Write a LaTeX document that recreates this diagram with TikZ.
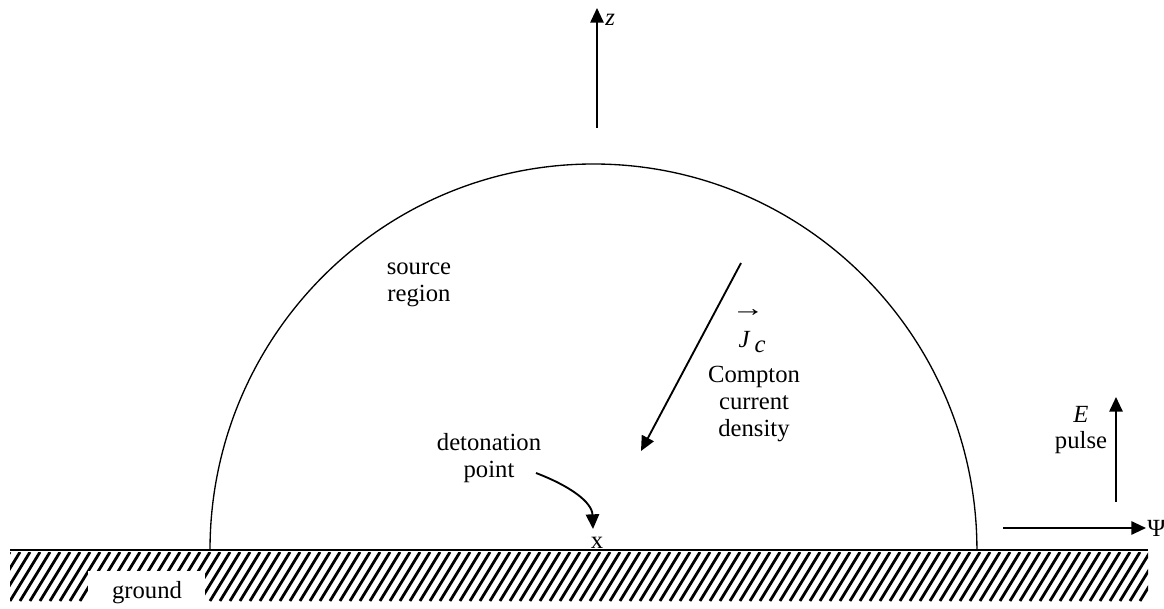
\documentclass[tikz,border=0pt]{standalone}
\usepackage{fontspec}
\setmainfont{Liberation Serif}
\usetikzlibrary{arrows.meta}
\begin{document}
\begin{tikzpicture}[x=0.75pt,y=-0.75pt,
  lbl/.style={font=\fontsize{18.5pt}{20pt}\selectfont, inner sep=0pt, align=center},
  arr/.style={line width=1.4pt, -{Triangle[length=11pt,width=10pt]}},
  hatchline/.style={line width=2.1pt},
  dome/.style={line width=1pt}]
\useasboundingbox (0,0) rectangle (1164,609);
% hatched ground
\begin{scope}
  \clip (10,552) rectangle (1148,601);
  \foreach \i in {-4,...,120} {
    \draw[hatchline] ({10+\i*10},601) -- ({10+\i*10+30},552);
  }
\end{scope}
\node[fill=white, minimum width=117*0.75pt, minimum height=40*0.75pt, inner sep=0pt] (gbox) at (146.5,591) {};
\node[lbl] (ground) at (147,593) {ground};
\draw[line width=1.5pt] (10,550) coordinate (gl) -- (1148,550) coordinate (gr);
% dome
\draw[dome] (210,550) coordinate (dl) arc[start angle=180, end angle=0, x radius=287.6pt, y radius=289.5pt] coordinate (dr);
% z axis
\coordinate (zb) at (597,128);
\coordinate (zt) at (597,8);
\draw[arr] (zb) -- (zt);
\node[lbl, anchor=west] (z) at (605,20) {\textit{z}};
% source region
\node[lbl] (src) at (419,285) {source\\region};
% Compton current
\coordinate (js) at (741,263);
\coordinate (je) at (641,451);
\draw[arr] (js) -- (je);
\node[lbl] (vec) at (748,313) {\scalebox{1.35}[1]{→}};
\node[lbl] (jc) at (752,342) {\textit{J}\,\raisebox{-4pt}{\textit{c}}};
\node[lbl] (compton) at (754,404) {Compton\\current\\density};
% detonation point
\node[lbl] (det) at (489,458) {detonation\\point};
\node[lbl] (x) at (597,543) {x};
\coordinate (dt) at (593,529);
\draw[arr] (536,473) .. controls (570,486) and (592,502) .. (dt);
% E pulse
\coordinate (eb) at (1116,502);
\coordinate (et) at (1116,397);
\draw[arr] (eb) -- (et);
\node[lbl] (E) at (1081,414) {\textit{E}};
\node[lbl] (pulse) at (1081,443) {pulse};
% Psi
\coordinate (pb) at (1003,528);
\coordinate (pt) at (1146,528);
\draw[arr] (pb) -- (pt);
\node[lbl, anchor=west] (psi) at (1147,528) {Ψ};
\end{tikzpicture}
\end{document}
